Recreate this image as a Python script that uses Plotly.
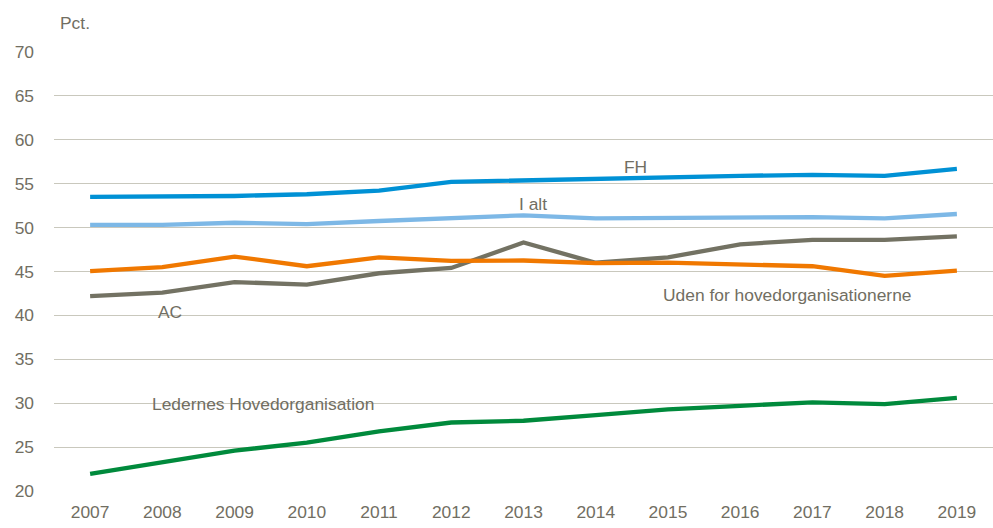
import plotly.graph_objects as go

years = ["2007", "2008", "2009", "2010", "2011", "2012", "2013", "2014", "2015", "2016", "2017", "2018", "2019"]
fh = [53.5, 53.5, 53.6, 53.8, 54.2, 55.2, 55.4, 55.6, 55.8, 55.9, 56.0, 55.9, 56.7]
i_alt = [50.3, 50.3, 50.55, 50.4, 50.75, 51.05, 51.4, 51.05, 51.1, 51.2, 51.2, 51.05, 51.55]
uden = [45.05, 45.5, 46.7, 45.6, 46.6, 46.2, 46.25, 45.95, 46.0, 45.75, 45.6, 44.5, 45.1]
ac = [42.2, 42.6, 43.8, 43.5, 44.8, 45.4, 48.3, 46.0, 46.6, 48.1, 48.6, 48.6, 49.0]
lh = [21.95, 23.3, 24.6, 25.5, 26.8, 27.8, 28.0, 28.65, 29.3, 29.7, 30.1, 29.9, 30.6]
y_ticks = [20, 25, 30, 35, 40, 45, 50, 55, 60, 65, 70]

txt = "#716e62"
font = "Liberation Sans, Arial, sans-serif"

series = [
    ("Ledernes Hovedorganisation", lh, "#008a3c"),
    ("AC", ac, "#737263"),
    ("Uden for hovedorganisationerne", uden, "#f07800"),
    ("I alt", i_alt, "#7db8e6"),
    ("FH", fh, "#0091d5"),
]

fig = go.Figure()
for name, vals, col in series:
    fig.add_trace(go.Scatter(x=years, y=vals, mode="lines", name=name,
                             line=dict(color=col, width=4.3), hoverinfo="x+y"))

labels = [
    ("FH", 7.55, 56.9),
    ("I alt", 6.13, 52.65),
    ("AC", 1.1, 40.35),
    ("Uden for hovedorganisationerne", 9.65, 42.35),
    ("Ledernes Hovedorganisation", 2.4, 29.9),
]
for t, xv, yv in labels:
    fig.add_annotation(x=xv, y=yv, text=t, showarrow=False, xref="x", yref="y",
                       xanchor="center", yanchor="middle",
                       font=dict(family=font, size=17.4, color=txt))

fig.add_annotation(x=0.004, y=1.0, xref="paper", yref="paper", yshift=29,
                   text="Pct.", showarrow=False, xanchor="left", yanchor="middle",
                   font=dict(family=font, size=17.4, color=txt))

fig.update_layout(
    width=993, height=528,
    margin=dict(l=54, r=0, t=52, b=37),
    paper_bgcolor="white", plot_bgcolor="white",
    showlegend=False,
    font=dict(family=font, size=17.4, color=txt),
    xaxis=dict(type="category", range=[-0.5, 12.5], showgrid=False, automargin=False,
               showline=False, zeroline=False, ticks="", ticklabelstandoff=9,
               tickfont=dict(family=font, size=17.4, color=txt), fixedrange=True),
    yaxis=dict(range=[20, 70], tickvals=y_ticks, showgrid=True, automargin=False,
               gridcolor="#c9c8bd", gridwidth=1.3, zeroline=False, showline=False,
               ticks="", ticklabelstandoff=19,
               tickfont=dict(family=font, size=17.4, color=txt), fixedrange=True),
)
fig.write_html("out.html", config={"displayModeBar": False},
               post_script="document.body.style.margin='0';document.body.style.overflow='hidden';")
